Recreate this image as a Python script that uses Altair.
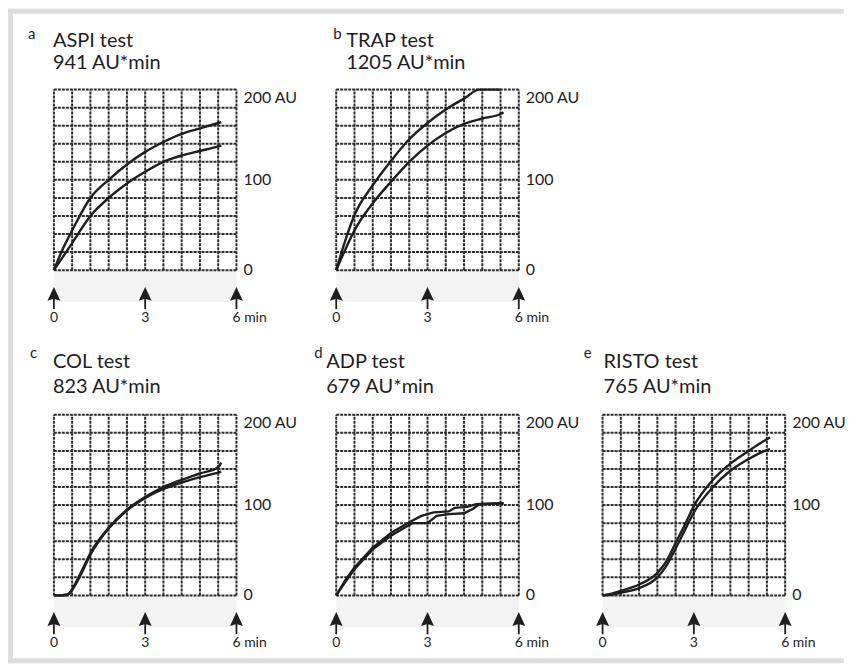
import altair as alt
import pandas as pd

# ---------------- data ----------------
GRID_T = [0, 0.6, 1.2, 1.8, 2.4, 3.0, 3.6, 4.2, 4.8, 5.4, 6.0]
GRID_V = [0, 20, 40, 60, 80, 100, 120, 140, 160, 180, 200]
ARROW_T = [0, 3, 6]
ARROW_LABELS = ["0", "3", "6 min"]
Y_MID_V = [0, 100]
Y_MID_LABELS = ["0", "100"]
Y_TOP_V = [200]
Y_TOP_LABELS = ["200 AU"]

LETTERS = ["a", "b", "c", "d", "e"]
TESTS = ["ASPI test", "TRAP test", "COL test", "ADP test", "RISTO test"]
AUC = ["941 AU*min", "1205 AU*min", "823 AU*min", "679 AU*min", "765 AU*min"]

A_T1 = [0, 0.3, 0.6, 1.2, 1.8, 2.4, 3.0, 3.6, 4.2, 4.8, 5.4, 5.5]
A_V1 = [0, 24, 44, 80, 100, 117, 131, 142, 151, 157, 163, 164]
A_T2 = [0, 0.3, 0.6, 1.2, 1.8, 2.4, 3.0, 3.6, 4.2, 4.8, 5.4, 5.5]
A_V2 = [0, 15, 30, 60, 80, 96, 109, 120, 127, 132, 137, 138]

B_T1 = [0, 0.3, 0.6, 1.2, 1.8, 2.4, 3.0, 3.6, 4.2, 4.7, 5.4]
B_V1 = [0, 33, 61, 94, 121, 145, 163, 178, 190, 200, 200]
B_T2 = [0, 0.3, 0.6, 1.2, 1.8, 2.4, 3.0, 3.6, 4.2, 4.8, 5.4, 5.5]
B_V2 = [0, 23, 44, 74, 98, 120, 138, 152, 162, 168, 173, 175]

C_T1 = [0, 0.2, 0.4, 0.5, 0.6, 0.9, 1.2, 1.8, 2.4, 3.0, 3.6, 4.2, 4.8, 5.4, 5.5]
C_V1 = [0, 0, 1, 2, 7, 26, 47, 75, 95, 109, 120, 128, 135, 142, 147]
C_T2 = [0, 0.2, 0.4, 0.5, 0.6, 0.9, 1.2, 1.8, 2.4, 3.0, 3.6, 4.2, 4.8, 5.4, 5.5]
C_V2 = [0, 0, 0, 2, 6, 24, 45, 74, 94, 108, 118, 125, 131, 136, 137]

D_T1 = [0, 0.3, 0.6, 1.2, 1.8, 2.4, 2.8, 3.2, 3.7, 3.9, 4.3, 4.6, 5.5]
D_V1 = [0, 17, 31, 53, 69, 81, 88, 92, 93, 97, 98, 101, 102]
D_T2 = [0, 0.3, 0.6, 1.2, 1.8, 2.2, 2.5, 3.0, 3.3, 3.7, 4.2, 4.5, 4.7, 5.5]
D_V2 = [0, 15, 29, 51, 66, 74, 80, 80, 88, 90, 91, 96, 101, 102]

E_T1 = [0, 0.3, 0.6, 1.2, 1.8, 2.1, 2.4, 2.7, 3.0, 3.6, 4.2, 4.8, 5.4, 5.5]
E_V1 = [0, 2, 5, 12, 25, 38, 58, 78, 99, 127, 146, 160, 173, 175]
E_T2 = [0, 0.3, 0.6, 1.2, 1.8, 2.1, 2.4, 2.7, 3.0, 3.6, 4.2, 4.8, 5.4, 5.5]
E_V2 = [0, 1, 3, 8, 20, 33, 52, 72, 92, 119, 138, 151, 161, 162]

# ---------------- style ----------------
W, H = 183, 181
FONT = "Lato"
INK = "#1e1e1e"
GRID_COLOR = "#2e2e2e"
FRAME = "#dedede"
ARROW_PATH = "M0,-1L0.7,0.5L0,0.3L-0.7,0.5Z"


def panel(i, t1, v1, t2, v2, view_w, letter_dx, title_dx, ty, interp, frame=False):
    xs = alt.Scale(domain=[0, 6], range=[0, W], nice=False, zero=False)
    ys = alt.Scale(domain=[0, 200], range=[H, 0], nice=False, zero=False)

    def X(f):
        return alt.X(f"{f}:Q", scale=xs, axis=None)

    def Y(f):
        return alt.Y(f"{f}:Q", scale=ys, axis=None)

    layers = []

    if frame:
        fdf = pd.DataFrame({"k": [0]})
        layers.append(alt.Chart(fdf).mark_rect(color=FRAME).encode(
            x=alt.value(-46), x2=alt.value(792), y=alt.value(-81), y2=alt.value(-76)))
        layers.append(alt.Chart(fdf).mark_rect(color=FRAME).encode(
            x=alt.value(-46), x2=alt.value(-41), y=alt.value(-81), y2=alt.value(575)))
        layers.append(alt.Chart(fdf).mark_rect(color=FRAME).encode(
            x=alt.value(-46), x2=alt.value(792), y=alt.value(570), y2=alt.value(575)))

    strip = pd.DataFrame({"x0": [0], "x1": [6]})
    layers.append(alt.Chart(strip).mark_rect(color="#f3f3f3").encode(
        x=X("x0"), x2="x1", y=alt.value(H), y2=alt.value(H + 32)))

    vg = pd.DataFrame({"t": GRID_T, "y0": [0] * len(GRID_T), "y1": [200] * len(GRID_T)})
    layers.append(alt.Chart(vg).mark_rule(color=GRID_COLOR, strokeWidth=2.0, strokeDash=[3, 1]).encode(
        x=X("t"), y=Y("y0"), y2="y1"))
    hg = pd.DataFrame({"v": GRID_V, "x0": [0] * len(GRID_V), "x1": [6] * len(GRID_V)})
    layers.append(alt.Chart(hg).mark_rule(color=GRID_COLOR, strokeWidth=2.0, strokeDash=[3, 1]).encode(
        y=Y("v"), x=X("x0"), x2="x1"))

    cdf = pd.concat([
        pd.DataFrame({"t": t1, "v": v1, "s": "1"}),
        pd.DataFrame({"t": t2, "v": v2, "s": "2"}),
    ])
    layers.append(alt.Chart(cdf).mark_line(color=INK, strokeWidth=2.4, interpolate=interp).encode(
        x=X("t"), y=Y("v"), detail="s:N"))

    ym = pd.DataFrame({"v": Y_MID_V, "lab": Y_MID_LABELS})
    layers.append(alt.Chart(ym).mark_text(align="left", baseline="middle", font=FONT, fontSize=16, color=INK).encode(
        x=alt.value(W + 7), y=Y("v"), text="lab:N"))
    yt = pd.DataFrame({"v": Y_TOP_V, "lab": Y_TOP_LABELS})
    layers.append(alt.Chart(yt).mark_text(align="left", baseline="top", font=FONT, fontSize=16, color=INK).encode(
        x=alt.value(W + 7), y=Y("v"), text="lab:N"))

    adf = pd.DataFrame({"t": ARROW_T, "lab": ARROW_LABELS})
    layers.append(alt.Chart(adf).mark_rule(color=INK, strokeWidth=1.8).encode(
        x=X("t"), y=alt.value(H + 28), y2=alt.value(H + 39)))
    layers.append(alt.Chart(adf).mark_point(shape=ARROW_PATH, filled=True, size=340, color=INK, opacity=1,
                                            strokeWidth=0).encode(
        x=X("t"), y=alt.value(H + 26)))
    layers.append(alt.Chart(adf).mark_text(align="left", dx=-4, baseline="alphabetic", font=FONT, fontSize=14,
                                           color=INK).encode(
        x=X("t"), y=alt.value(H + 52), text="lab:N"))

    tdf = pd.DataFrame({"letter": [LETTERS[i]], "test": [TESTS[i]], "auc": [AUC[i]]})
    layers.append(alt.Chart(tdf).mark_text(align="left", baseline="alphabetic", font=FONT, fontSize=15,
                                           color=INK).encode(
        x=alt.value(letter_dx), y=alt.value(ty[0]), text="letter:N"))
    layers.append(alt.Chart(tdf).mark_text(align="left", baseline="alphabetic", font=FONT, fontSize=20,
                                           color=INK).encode(
        x=alt.value(title_dx), y=alt.value(ty[1]), text="test:N"))
    layers.append(alt.Chart(tdf).mark_text(align="left", baseline="alphabetic", font=FONT, fontSize=20,
                                           color=INK).encode(
        x=alt.value(title_dx), y=alt.value(ty[2]), text="auc:N"))

    return alt.layer(*layers).properties(width=view_w, height=H)


ROW1 = (-51, -43, -21)
ROW2 = (-57, -47, -22)

pa = panel(0, A_T1, A_V1, A_T2, A_V2, 283, -26, -1, ROW1, "monotone", frame=True)
pb = panel(1, B_T1, B_V1, B_T2, B_V2, 267, -3, 10, ROW1, "monotone")
pc = panel(2, C_T1, C_V1, C_T2, C_V2, 283, -24, -1, ROW2, "monotone")
pdd = panel(3, D_T1, D_V1, D_T2, D_V2, 267, -22, -10, ROW2, "linear")
pe = panel(4, E_T1, E_V1, E_T2, E_V2, W, -19, 1, ROW2, "monotone")

blank = alt.Chart(pd.DataFrame({"k": [0]})).mark_point(opacity=0).encode(
    x=alt.X("k:Q", axis=None), y=alt.Y("k:Q", axis=None)).properties(width=1, height=1)

chart = alt.concat(
    pa, pb, blank, pc, pdd, pe,
    columns=3,
    spacing={"row": 145, "column": 0},
    bounds="flush",
    align="each",
).configure_view(stroke=None).properties(padding=0, background="white")

chart.save("out.html", embed_options={"renderer": "svg", "actions": False})
